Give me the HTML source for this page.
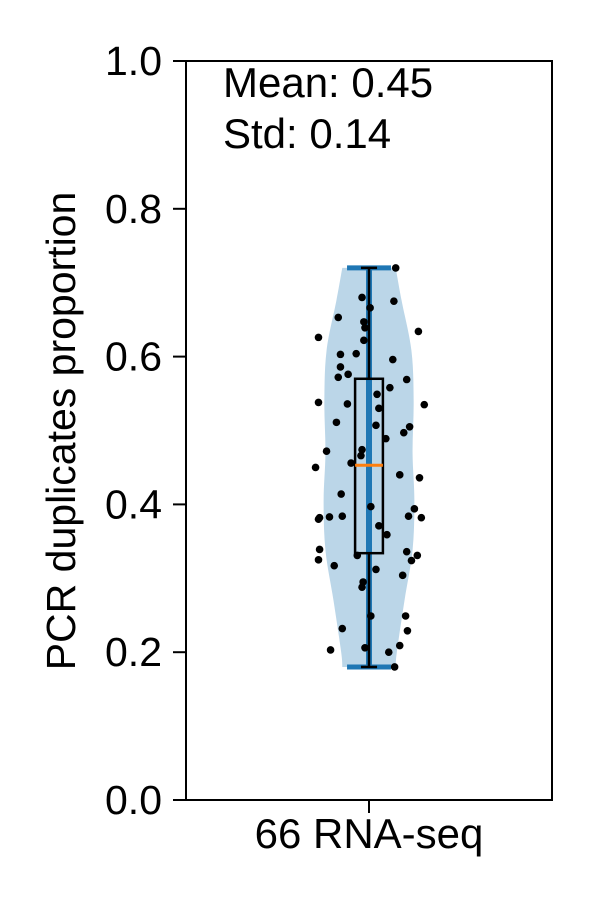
<!DOCTYPE html>
<html><head><meta charset="utf-8"><style>
html,body{margin:0;padding:0;background:#fff;}
svg text{font-family:"Liberation Sans",Arial,sans-serif;fill:#000;}
</style></head><body>
<svg id="chart" width="600" height="900" xmlns="http://www.w3.org/2000/svg">
<g id="violin"></g>
<g id="box"></g>
<g id="pts"></g>
<g id="axes"></g>
</svg>
<script>
// Data
const categories = ["66 RNA-seq"];
const yTicks = [0.0, 0.2, 0.4, 0.6, 0.8, 1.0];
const yTickLabels = ["0.0", "0.2", "0.4", "0.6", "0.8", "1.0"];
const pointValues = [0.720,0.680,0.675,0.666,0.653,0.647,0.639,0.634,0.626,0.622,0.603,0.604,0.596,0.586,0.576,0.572,0.569,0.558,0.549,0.538,0.536,0.535,0.530,0.511,0.507,0.505,0.497,0.489,0.472,0.474,0.466,0.450,0.456,0.440,0.436,0.414,0.397,0.382,0.380,0.384,0.383,0.394,0.384,0.382,0.371,0.359,0.339,0.325,0.331,0.336,0.331,0.324,0.317,0.312,0.304,0.295,0.288,0.249,0.249,0.232,0.229,0.209,0.203,0.206,0.200,0.180];
const pointJitter = [0.073,-0.019,0.068,0.003,-0.084,-0.014,-0.011,0.135,-0.138,-0.014,-0.078,-0.035,0.065,-0.078,-0.057,-0.084,0.103,0.057,0.022,-0.138,-0.059,0.151,0.027,-0.089,0.019,0.111,0.095,0.046,-0.116,-0.019,-0.022,-0.146,-0.049,0.084,0.138,-0.076,0.005,-0.135,-0.138,-0.073,-0.108,0.124,0.108,0.143,0.027,0.049,-0.135,-0.138,-0.032,0.103,0.132,0.116,-0.095,0.019,0.092,-0.016,-0.019,0.005,0.100,-0.073,0.105,0.084,-0.105,-0.011,0.054,0.070];
const violinLevels = [0.180,0.200,0.270,0.338,0.405,0.470,0.540,0.608,0.676,0.720];
const violinHalfWidth = [0.073,0.076,0.097,0.119,0.124,0.119,0.122,0.116,0.089,0.073];
const boxStats = {min:0.180, q1:0.334, median:0.453, q3:0.570, max:0.720};
const meanVal = 0.45, stdVal = 0.14;

const L=186,R=552,T=61,B=800,CX=(L+R)/2;
const ys=v=>B-(v-0)/(1-0)*(B-T);
const xs=d=>CX+d*(R-L);
const NS="http://www.w3.org/2000/svg";
function mk(tag,attrs,parent){const e=document.createElementNS(NS,tag);for(const k in attrs)e.setAttribute(k,attrs[k]);parent.appendChild(e);return e;}

// smooth path through points (Catmull-Rom)
function smooth(pts){
 let d=`M${pts[0][0]},${pts[0][1]}`;
 for(let i=0;i<pts.length-1;i++){
  const p0=pts[Math.max(i-1,0)],p1=pts[i],p2=pts[i+1],p3=pts[Math.min(i+2,pts.length-1)];
  const c1=[p1[0]+(p2[0]-p0[0])/6,p1[1]+(p2[1]-p0[1])/6];
  const c2=[p2[0]-(p3[0]-p1[0])/6,p2[1]-(p3[1]-p1[1])/6];
  d+=` C${c1[0]},${c1[1]} ${c2[0]},${c2[1]} ${p2[0]},${p2[1]}`;
 }
 return d;
}
const rp=violinLevels.map((v,i)=>[xs(violinHalfWidth[i]),ys(v)]);
const lp=violinLevels.map((v,i)=>[xs(-violinHalfWidth[i]),ys(v)]).reverse();
const dR=smooth(rp), dL=smooth(lp);
const vp=mk('path',{d:dR+' L'+dL.slice(1)+' Z',fill:'#1f77b4','fill-opacity':'0.3',stroke:'none'},document.getElementById('violin'));


const vg=document.getElementById('violin');
const vl=mk('line',{x1:CX,x2:CX,y1:ys(boxStats.min),y2:ys(boxStats.max),stroke:'#1f77b4','stroke-width':6},vg);


[boxStats.min,boxStats.max].forEach(v=>{
 const c=mk('line',{x1:xs(-0.06),x2:xs(0.06),y1:ys(v),y2:ys(v),stroke:'#1f77b4','stroke-width':5},vg);
 
 
});
// box
const bg=document.getElementById('box');
const w1=mk('line',{x1:CX,x2:CX,y1:ys(boxStats.max),y2:ys(boxStats.q3),stroke:'#000','stroke-width':2.5},bg);


const w2=mk('line',{x1:CX,x2:CX,y1:ys(boxStats.q1),y2:ys(boxStats.min),stroke:'#000','stroke-width':2.5},bg);


[boxStats.min,boxStats.max].forEach(v=>{
 const c=mk('line',{x1:xs(-0.022),x2:xs(0.022),y1:ys(v),y2:ys(v),stroke:'#000','stroke-width':2.5},bg);
 
 
});
const br=mk('rect',{x:xs(-0.038),y:ys(boxStats.q3),width:xs(0.038)-xs(-0.038),height:ys(boxStats.q1)-ys(boxStats.q3),fill:'none',stroke:'#000','stroke-width':2.5},bg);


const md=mk('line',{x1:xs(-0.038),x2:xs(0.038),y1:ys(boxStats.median),y2:ys(boxStats.median),stroke:'#ff7f0e','stroke-width':3},bg);


// points
const pg=document.getElementById('pts');
pointValues.forEach((v,i)=>{
 const c=mk('circle',{cx:xs(pointJitter[i]),cy:ys(v),r:3.8,fill:'#000'},pg);
 
 
});
// axes
const ag=document.getElementById('axes');
const fr=mk('rect',{x:L,y:T,width:R-L,height:B-T,fill:'none',stroke:'#000','stroke-width':2},ag);


yTicks.forEach((v,i)=>{
 const t=mk('line',{x1:L-13,x2:L,y1:ys(v),y2:ys(v),stroke:'#000','stroke-width':2},ag);
 
 
 const tx=mk('text',{x:L-24,y:ys(v)+14,'text-anchor':'end','font-size':41},ag);
 tx.textContent=yTickLabels[i];
 
 
});
const xt=mk('line',{x1:CX,x2:CX,y1:B,y2:B+13,stroke:'#000','stroke-width':2},ag);


const xl=mk('text',{x:CX,y:848,'text-anchor':'middle','font-size':42},ag);
xl.textContent=categories[0];


const yl=mk('text',{x:0,y:0,'text-anchor':'middle','font-size':41,transform:'translate(75,431) rotate(-90)'},ag);
yl.textContent='PCR duplicates proportion';


const m1=mk('text',{x:223,y:97,'font-size':42},ag);
m1.textContent='Mean: '+meanVal.toFixed(2);


const m2=mk('text',{x:223,y:148,'font-size':42},ag);
m2.textContent='Std: '+stdVal.toFixed(2);


</script>
</body></html>
